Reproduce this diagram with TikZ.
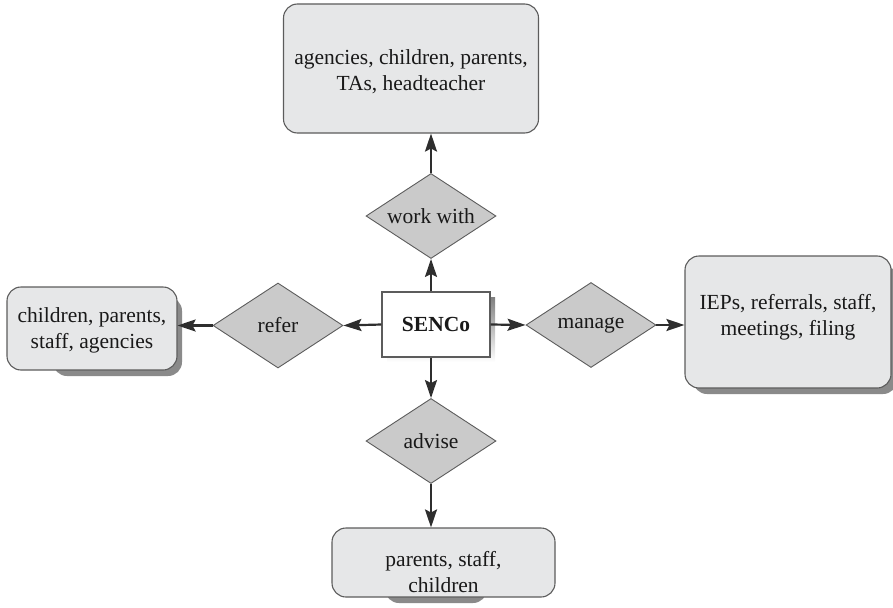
\documentclass[tikz,border=0pt]{standalone}
\usepackage{fontspec}
\setmainfont{Liberation Serif}
\usetikzlibrary{shapes.geometric,arrows.meta}
\definecolor{boxfill}{HTML}{E6E7E8}
\definecolor{dfill}{HTML}{CACACA}
\definecolor{edgec}{HTML}{5C5C5C}
\definecolor{shade}{HTML}{8A8A8A}
\definecolor{arr}{HTML}{2E2E2E}
\newcommand\shl[2]{\raisebox{#1}[\height][\depth]{#2}}
\begin{document}
\begin{tikzpicture}[x=1pt,y=-1pt,
  every node/.style={font=\fontsize{21.5}{26}\selectfont, text=black!90},
  rbox/.style={draw=edgec, line width=1.1pt, fill=boxfill, rounded corners=14pt, align=center, inner sep=0pt},
  dia/.style={shape=diamond, draw=edgec, line width=0.9pt, fill=dfill, aspect=1.5, inner sep=0pt, minimum width=130pt, minimum height=85pt},
  sbox/.style={draw=edgec, line width=1.1pt, fill=white, inner sep=0pt, minimum width=108pt, minimum height=65pt},
  shadowr/.style={fill=shade, rounded corners=14pt},
  conn/.style={draw=arr, line width=2.2pt, -{Stealth[length=18pt,width=12pt,inset=3pt]}}]
\useasboundingbox (0,0) rectangle (893,607);
% shadows
\fill[shadowr] (53,297) rectangle (182,376);
\fill[shadowr] (693,265) rectangle (897,394);
\fill[shadowr] (385,540) rectangle (487,603);
\fill[shade] (387,297) rectangle (495,362);
% boxes
\node[rbox, minimum width=255pt, minimum height=129pt] (top) at (411,68.5) {\shl{-3pt}{agencies, children, parents,}\\\shl{-3pt}{TAs, headteacher}};
\node[rbox, minimum width=170pt, minimum height=83pt] (lbox) at (92,328.5) {\shl{-2pt}{children, parents,}\\\shl{-2pt}{staff, agencies}};
\node[rbox, minimum width=206pt, minimum height=132pt] (rbx) at (788,322) {\shl{5pt}{IEPs, referrals, staff,}\\\shl{5pt}{meetings, filing}};
\node[rbox, minimum width=223pt, minimum height=69pt] (bbox) at (443.5,562.5) {\shl{-10pt}{parents, staff,}\\\shl{-10pt}{children}};
\node[sbox] (senco) at (436,324.5) {\textbf{SENCo}};
% diamonds
\node[dia] (wd) at (431,216) {work with};
\node[dia] (refer) at (278,325.5) {refer};
\node[dia] (manage) at (591,325) {manage};
\node[dia] (adv) at (431,441) {advise};
% connectors
\draw[conn] (senco.north -| wd.south) -- (wd.south);
\draw[conn] (wd.north) -- (wd.north |- top.south);
\draw[conn] (senco.west) -- (refer.east);
\draw[conn] (refer.west) -- (refer.west -| lbox.east);
\draw[conn] (senco.east) -- (manage.west);
\draw[conn] (manage.east) -- (manage.east -| rbx.west);
\draw[conn] (senco.south -| adv.north) -- (adv.north);
\draw[conn] (adv.south) -- (adv.south |- bbox.north);
\end{tikzpicture}
\end{document}
